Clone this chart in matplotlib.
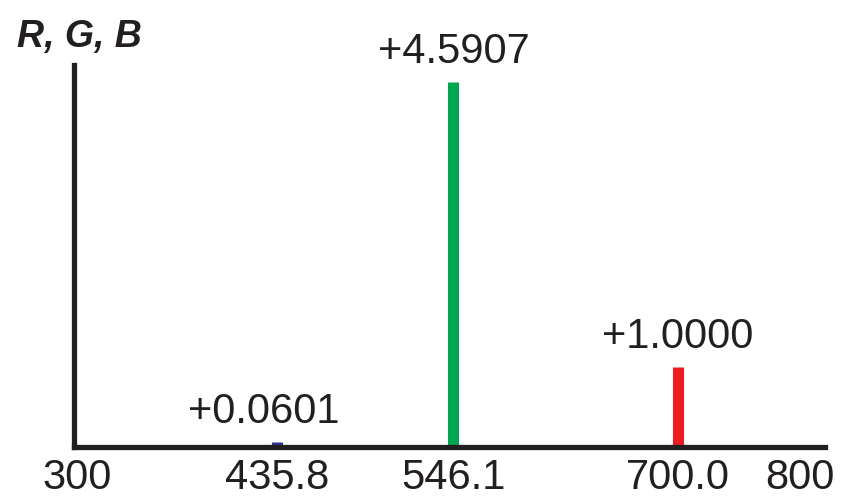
import numpy as np
import matplotlib
matplotlib.use("Agg")
import matplotlib.pyplot as plt

# ---- data ----
wavelengths = [435.8, 546.1, 700.0]
values = [0.0601, 4.5907, 1.0000]
value_labels = ["+0.0601", "+4.5907", "+1.0000"]
bar_colors = ["#2e3192", "#00a651", "#ed1c24"]
tick_values = [300, 435.8, 546.1, 700.0, 800]
tick_labels = ["300", "435.8", "546.1", "700.0", "800"]
axis_label = "R, G, B"

# ---- schematic (non-uniform) wavelength axis, as drawn in the original ----
knots_nm = np.array([0.0, 300.0, 435.8, 546.1, 700.0, 800.0, 2000.0])
knots_u = np.array([-365.8, 77.0, 277.5, 453.5, 677.5, 800.0, 2270.0])


def fwd(x):
    return np.interp(x, knots_nm, knots_u)


def inv(u):
    return np.interp(u, knots_u, knots_nm)


plt.rcParams['font.family'] = ['Liberation Sans', 'DejaVu Sans']
ink = "#231f20"

W, H = 842, 496
fig = plt.figure(figsize=(W / 100, H / 100), dpi=100)
left_px, right_px, bottom_px, top_px = 73.5, 825.0, 446.5, 65.0
ax = fig.add_axes([left_px / W, (H - bottom_px) / H,
                   (right_px - left_px) / W, (bottom_px - top_px) / H])
ax.set_xscale('function', functions=(fwd, inv))
ax.set_xlim(float(inv(left_px)), float(inv(right_px)))
ax.set_ylim(0, 4.80)

ax.vlines(wavelengths, 0, values, colors=bar_colors, linewidth=8.0,
          capstyle='butt', zorder=2)

label_dx = [-10, 0, 0]
for wl, v, lab, dx in zip(wavelengths, values, value_labels, label_dx):
    ax.annotate(lab, (wl, v), xytext=(dx, 13.5), textcoords='offset points',
                ha='center', va='baseline', fontsize=30, color=ink)

ax.set_xticks(tick_values)
ax.set_xticklabels(tick_labels)
ax.set_yticks([])
ax.tick_params(axis='x', length=0, pad=8, labelsize=30, labelcolor=ink)
ax.xaxis.set_minor_locator(matplotlib.ticker.NullLocator())

for s in ['top', 'right']:
    ax.spines[s].set_visible(False)
for s in ['left', 'bottom']:
    ax.spines[s].set_linewidth(3.8)
    ax.spines[s].set_color(ink)
    ax.spines[s].set_capstyle('projecting')
    ax.spines[s].set_zorder(3)

fig.text(17 / W, 1 - 47 / H, axis_label, fontsize=27, fontweight='bold',
         style='italic', color=ink, ha='left', va='baseline')

fig.savefig("out.png", dpi=100)
